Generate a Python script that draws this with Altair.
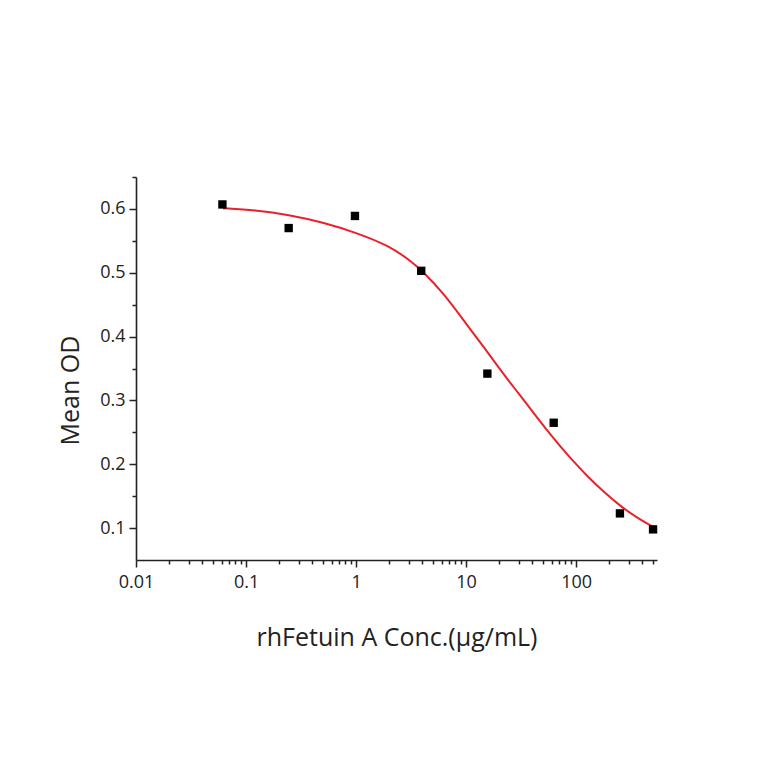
import altair as alt
import pandas as pd

# measured points
conc = [0.061, 0.244, 0.977, 3.91, 15.6, 62.5, 250, 500]
mean_od = [0.607, 0.570, 0.589, 0.503, 0.342, 0.265, 0.123, 0.098]

# fitted curve
fit_conc = [0.0616, 0.12, 0.244, 0.5, 1.0, 2.0, 3.0, 4.0, 6.3, 10, 15, 20.8, 30, 42, 60, 87, 130, 180, 258, 360, 500]
fit_od = [0.601, 0.598, 0.591, 0.579, 0.563, 0.542, 0.521, 0.503, 0.467, 0.420, 0.380, 0.346,
          0.311, 0.278, 0.244, 0.211, 0.179, 0.156, 0.133, 0.116, 0.102]

x_major = [0.01, 0.1, 1, 10, 100]
x_minor = [0.02, 0.03, 0.04, 0.05, 0.06, 0.07, 0.08, 0.09,
           0.2, 0.3, 0.4, 0.5, 0.6, 0.7, 0.8, 0.9,
           2, 3, 4, 5, 6, 7, 8, 9,
           20, 30, 40, 50, 60, 70, 80, 90,
           200, 300, 400, 500]
y_major = [0.1, 0.2, 0.3, 0.4, 0.5, 0.6]
y_minor = [0.15, 0.25, 0.35, 0.45, 0.55, 0.65]
x_domain = [0.01, 543]
y_domain = [0.05, 0.65]

x_title = "rhFetuin A Conc.(μg/mL)"
y_title = "Mean OD"

pts = pd.DataFrame({"conc": conc, "od": mean_od})
fit = pd.DataFrame({"conc": fit_conc, "od": fit_od})

FONT = "Open Sans"
INK = "#222222"

xs = alt.Scale(type="log", domain=x_domain, nice=False)
ys = alt.Scale(domain=y_domain, nice=False, zero=False)

common = dict(domainColor=INK, domainWidth=1.6, tickColor=INK, tickWidth=1.5,
              labelFont=FONT, labelColor=INK, titleFont=FONT, titleColor=INK,
              titleFontWeight="normal", grid=False, labelFlush=False)

x_axis_major = alt.Axis(values=x_major, tickSize=7, labelFontSize=18, labelPadding=6,
                        labelExpr="format(datum.value, '~g')", title=x_title,
                        titleFontSize=25, titleBaseline="alphabetic", titleY=85,
                        orient="bottom", **common)
y_axis_major = alt.Axis(values=y_major, tickSize=7, labelFontSize=18, labelPadding=4,
                        format=".1f", title=y_title, titleFontSize=25,
                        titleBaseline="alphabetic", titleX=-58, titleY=213,
                        orient="left", **common)

x_axis_minor = alt.Axis(values=x_minor, tickSize=4, labels=False, domain=False,
                        title=None, orient="bottom", tickColor=INK, tickWidth=1.5, grid=False)
y_axis_minor = alt.Axis(values=y_minor, tickSize=4, labels=False, domain=False,
                        title=None, orient="left", tickColor=INK, tickWidth=1.5, grid=False)

curve = alt.Chart(fit).mark_line(color="#e8212b", strokeWidth=2, interpolate="basis").encode(
    x=alt.X("conc:Q", scale=xs, axis=x_axis_major),
    y=alt.Y("od:Q", scale=ys, axis=y_axis_major),
)

points = alt.Chart(pts).mark_point(shape="square", filled=True, color="#000000", size=70, opacity=1).encode(
    x=alt.X("conc:Q", scale=xs, axis=x_axis_minor),
    y=alt.Y("od:Q", scale=ys, axis=y_axis_minor),
)

chart = alt.layer(curve, points).resolve_axis(x="independent", y="independent").properties(
    width=521,
    height=383,
    autosize=alt.AutoSizeParams(type="none"),
    padding={"left": 128, "top": 169, "right": 80, "bottom": 150},
    background="white",
).configure_view(strokeOpacity=0)

chart.save("out.html", embed_options={"renderer": "svg", "actions": False})
